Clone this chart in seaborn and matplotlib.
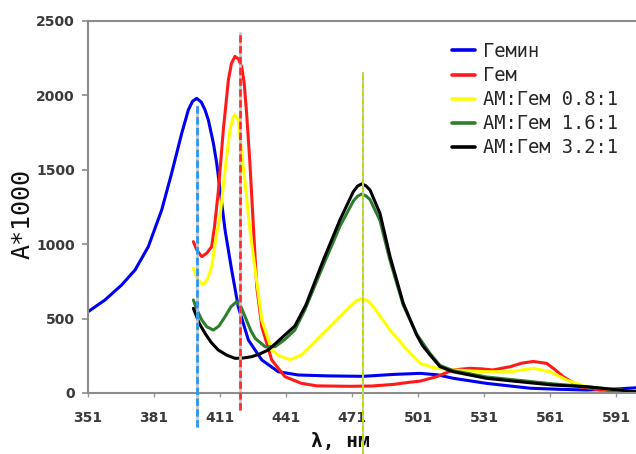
import numpy as np
import pandas as pd
import matplotlib
matplotlib.use("Agg")
import matplotlib.pyplot as plt
import seaborn as sns

# ---------------- data ----------------
series_names = ["Гемин", "Гем", "АМ:Гем 0.8:1", "АМ:Гем 1.6:1", "АМ:Гем 3.2:1"]

hemin_nm = [351, 358.7, 366.3, 372.4, 378.4, 384.5, 389, 393.6, 396.6, 398.5, 400.4, 402.5,
            404.2, 405.7, 408, 409.5, 411.8, 413.3, 416.3, 419.3, 423.9, 430, 437.5, 446.6,
            460, 476, 490, 502, 510, 517, 532, 552, 565, 577.7, 590, 600]
hemin_val = [546, 625, 726, 827, 983, 1230, 1476, 1745, 1902, 1960, 1980, 1955,
             1902, 1835, 1678, 1544, 1275, 1095, 827, 580, 356, 222, 143, 121,
             115, 112, 125, 132, 122, 99, 65, 32, 25, 20, 26, 35]

heme_nm = [398.9, 400.5, 402.7, 405, 407.2, 408.5, 410.2, 412.5, 414.8, 416.2, 417.8, 419.4,
           420.9, 422, 423.1, 424.6, 426.1, 427.7, 430, 434.5, 440.5, 448, 455, 470, 480,
           490, 497, 502, 509.5, 517, 524.6, 530, 535, 543, 548, 553.4, 559.5, 563, 567,
           574.6, 583.7, 600]
heme_val = [1017, 960, 916, 940, 983, 1118, 1350, 1767, 2103, 2215, 2262, 2245,
            2190, 2080, 1880, 1544, 1140, 714, 446, 222, 110, 65, 48, 45, 47,
            58, 72, 80, 110, 155, 166, 162, 155, 177, 200, 212, 199, 160, 110,
            42, 20, 9]

am08_nm = [398.9, 401, 403.4, 405.5, 407.2, 409.5, 411, 413.3, 415.5, 417, 417.8, 419.3,
           420.9, 423.1, 424.6, 427, 430, 434.5, 438, 440.5, 443, 448, 451.9, 461, 470,
           473, 475.4, 478, 480.7, 488.3, 497.4, 502, 508, 517, 532, 543, 553.4, 561,
           568.6, 577.7, 600]
am08_val = [838, 760, 726, 770, 849, 1073, 1185, 1499, 1767, 1855, 1868, 1835,
            1611, 1319, 1095, 827, 491, 289, 250, 235, 225, 255, 311, 446, 580,
            620, 636, 622, 580, 423, 267, 200, 170, 155, 143, 143, 166, 143,
            87, 42, 9]

am16_nm = [398.9, 400.5, 402.7, 405, 408, 410.5, 413.3, 416, 418.6, 420.5, 422.4, 425, 427,
           431.5, 436, 440.5, 445, 449.6, 458, 465.5, 471.6, 473.5, 475.4, 477.3, 479.2,
           483.7, 488.3, 494.3, 500.4, 506.5, 511, 517, 532, 547, 562, 577.7, 600]
am16_val = [625, 560, 491, 445, 423, 450, 513, 580, 614, 580, 513, 420, 367,
            311, 311, 360, 423, 560, 860, 1120, 1290, 1322, 1337, 1325, 1300,
            1160, 890, 590, 395, 265, 185, 150, 108, 85, 62, 42, 9]

am32_nm = [398.9, 401.5, 404.2, 407, 410.2, 414, 417.8, 421.5, 425.4, 429, 432.9, 436.5,
           440.5, 445, 450, 458, 465.5, 471.6, 473.5, 475.4, 477.3, 479.2, 483.7, 488.3,
           494.3, 500.4, 503, 506.5, 511, 517, 532, 547, 562, 577.7, 600]
am32_val = [569, 470, 401, 340, 289, 255, 233, 235, 244, 262, 289, 336,
            390, 450, 590, 894, 1163, 1353, 1390, 1405, 1393, 1364, 1208, 916,
            603, 390, 320, 255, 177, 143, 99, 76, 54, 42, 9]

# vertical dashed marker lines: wavelength, top value, bottom value
marker_nm = [400.5, 420.0, 476.0]
marker_top = [1935, 2426, 2157]
marker_bottom = [-228, -114, -420]

x_ticks = [351, 381, 411, 441, 471, 501, 531, 561, 591]
y_ticks = [0, 500, 1000, 1500, 2000, 2500]

# ---------------- styling ----------------
colors = ["#0000f0", "#ff1a1a", "#ffff00", "#2f7d2f", "#000000"]
marker_colors = ["#2196f3", "#ff2a2a", "#b8e000"]
marker_widths = [1.9, 1.9, 1.4]

sns.set_style("white")
plt.rcParams["font.family"] = ["DejaVu Sans"]

frames = []
for name, xs, ys in zip(series_names,
                        [hemin_nm, heme_nm, am08_nm, am16_nm, am32_nm],
                        [hemin_val, heme_val, am08_val, am16_val, am32_val]):
    frames.append(pd.DataFrame({"nm": xs, "val": ys, "series": name}))
df = pd.concat(frames, ignore_index=True)

fig = plt.figure(figsize=(6.36, 4.54), dpi=100)
W, H = 636, 454
ax = fig.add_axes([88 / W, 1 - 393 / H, (640 - 88) / W, 372 / H])

sns.lineplot(data=df, x="nm", y="val", hue="series", hue_order=series_names,
             palette=dict(zip(series_names, colors)), estimator=None, sort=False,
             linewidth=2.2, legend=False, ax=ax)
for ln in ax.lines:
    ln.set_solid_joinstyle("round")
    ln.set_solid_capstyle("round")

# dashed marker lines (gray under-layer + coloured dashes, drawn on top)
for xv, top, bot, c, lw in zip(marker_nm, marker_top, marker_bottom, marker_colors, marker_widths):
    ax.plot([xv, xv], [bot, top], color="#c4c4c4", lw=lw, clip_on=False, zorder=5,
            solid_capstyle="butt")
    ax.plot([xv, xv], [bot, top], color=c, lw=lw, ls=(0, (2.8, 1.3)), clip_on=False,
            zorder=6, dash_capstyle="butt")

ax.set_xlim(351, 351 + (640 - 88) / 2.2)
ax.set_ylim(0, 2500)
ax.set_xticks(x_ticks)
ax.set_yticks(y_ticks)

for s in ["left", "top", "bottom", "right"]:
    ax.spines[s].set_color("#8c8c8c")
    ax.spines[s].set_linewidth(1.5)

ax.tick_params(axis="y", direction="out", length=4.5, width=1.2, color="#8c8c8c",
               pad=5, left=True)
ax.tick_params(axis="x", direction="out", length=3, width=1.0, color="#9a9a9a",
               pad=10, bottom=True)
for lab in ax.get_xticklabels() + ax.get_yticklabels():
    lab.set_fontsize(10)
    lab.set_fontweight("bold")
    lab.set_color("#3a3a3a")

ax.set_ylabel("A*1000", fontsize=18, family="DejaVu Sans Mono", color="#111111", va="center")
ax.yaxis.set_label_coords((23 - 88) / 552, (393 - 214) / 372)
ax.set_xlabel("λ, нм", fontsize=14, family="DejaVu Sans Mono", fontweight="bold",
              color="#111111")
ax.xaxis.set_label_coords((340 - 88) / 552, -0.105)

leg = ax.legend(ax.lines[:5], series_names, loc="upper left",
                bbox_to_anchor=(452 / W, 1 - 42 / H), bbox_transform=fig.transFigure,
                frameon=False, borderpad=0, borderaxespad=0, handlelength=1.25,
                handletextpad=0.42, labelspacing=0.27,
                prop={"family": "DejaVu Sans Mono", "size": 13.5})
for h in leg.get_lines():
    h.set_linewidth(2.6)

fig.savefig("out.png", dpi=100)
